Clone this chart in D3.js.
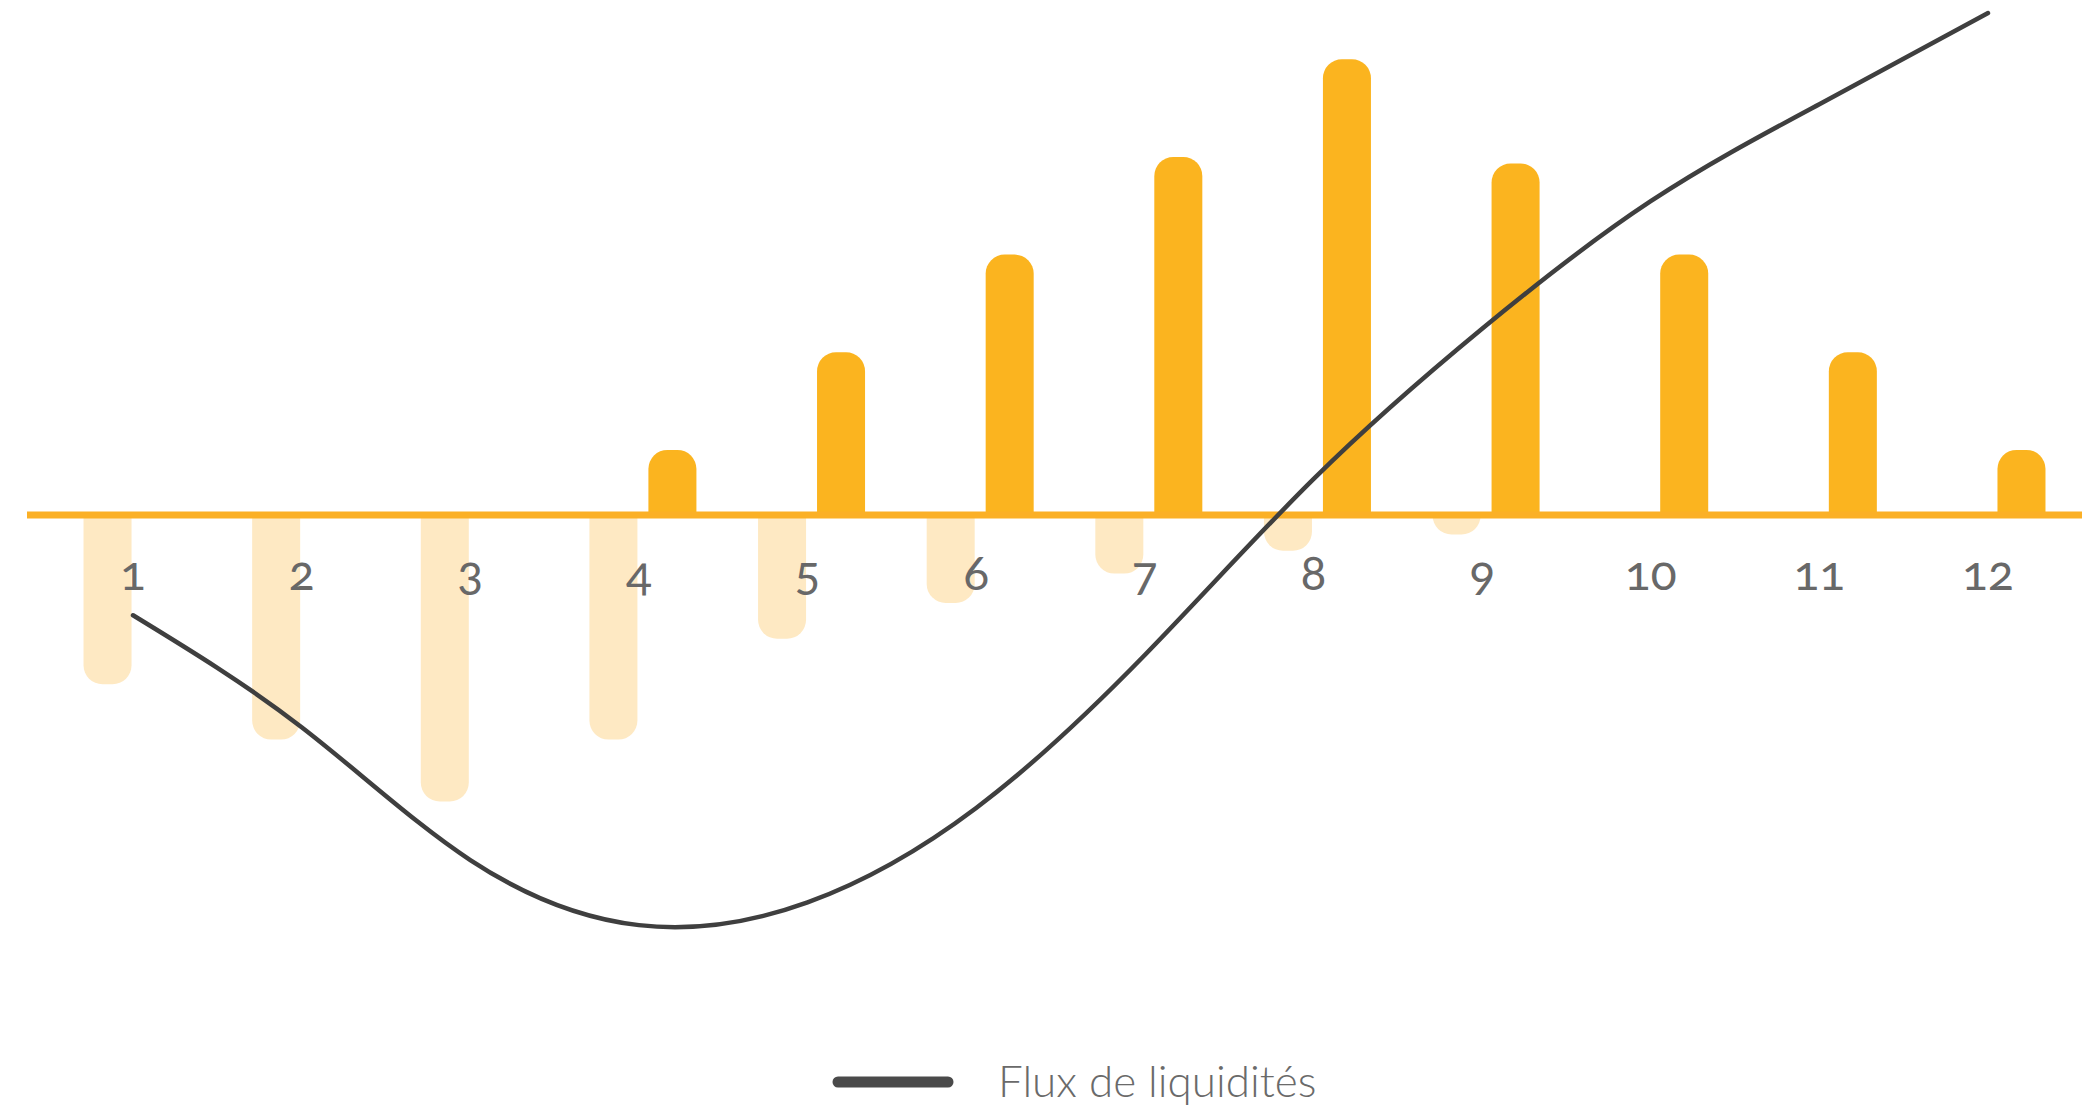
<!DOCTYPE html>
<html>
<head>
<meta charset="utf-8">
<script src="https://cdn.jsdelivr.net/npm/d3@7"></script>
<style>
  html, body { margin: 0; padding: 0; background: #ffffff; }
  svg { display: block; }
</style>
</head>
<body>
<svg id="chart" width="2082" height="1105"></svg>
<script>
// ---- Data ----
const months = ["1","2","3","4","5","6","7","8","9","10","11","12"];
const inflows  = [0, 0, 0, 10, 25, 40, 55, 70, 54, 40, 25, 10];
const outflows = [26, 34.5, 44, 34.5, 19, 13.5, 9, 5.5, 3, 0, 0, 0];
const cashFlow = [-15.4, -32.6, -53, -63, -59.5, -45, -21.5, 5.5, 28.6, 48.2, 63.1, 77.1];
const legendLabel = "Flux de liquidités";

// ---- Layout ----
const W = 2082, H = 1105;
const svg = d3.select("#chart");

const x = d3.scaleBand().domain(months).range([48.7, 2072.3]).padding(0);
const xInner = d3.scaleBand().domain(["out", "in"]).range([-49.5, 57.5]).paddingInner(0.186);
const y = d3.scaleLinear().domain([-60, 80]).range([515 + 60 * 6.51, 515 - 80 * 6.51]);
const cx = m => x(m) + x.bandwidth() / 2;

const darkColor = "#FBB41F";
const lightColor = "#FEE9C3";
const axisColor = "#FBB026";
const r = 19;

const defs = svg.append("defs");
defs.append("clipPath").attr("id", "above")
  .append("rect").attr("x", 0).attr("y", 0).attr("width", W).attr("height", y(0));
defs.append("clipPath").attr("id", "below")
  .append("rect").attr("x", 0).attr("y", y(0)).attr("width", W).attr("height", H - y(0));

const data = months.map((m, i) => ({ m, inflow: inflows[i], outflow: outflows[i], cash: cashFlow[i] }));

// light (outflow) bars below axis
svg.append("g").attr("clip-path", "url(#below)")
  .selectAll("rect")
  .data(data.filter(d => d.outflow > 0))
  .join("rect")
  .attr("fill", lightColor)
  .attr("x", d => cx(d.m) + xInner("out"))
  .attr("width", xInner.bandwidth())
  .attr("y", y(0) - r)
  .attr("height", d => y(-d.outflow) - y(0) + r)
  .attr("rx", r).attr("ry", r);

// dark (inflow) bars above axis
svg.append("g").attr("clip-path", "url(#above)")
  .selectAll("rect")
  .data(data.filter(d => d.inflow > 0))
  .join("rect")
  .attr("fill", darkColor)
  .attr("x", d => cx(d.m) + xInner("in"))
  .attr("width", xInner.bandwidth())
  .attr("y", d => y(d.inflow))
  .attr("height", d => y(0) - y(d.inflow) + r)
  .attr("rx", r).attr("ry", r);

// axis line
svg.append("line")
  .attr("x1", 27).attr("x2", W)
  .attr("y1", y(0)).attr("y2", y(0))
  .attr("stroke", axisColor).attr("stroke-width", 7);

// month labels
const xAxis = d3.axisBottom(x).tickSize(0).tickPadding(0);
const axisG = svg.append("g").attr("transform", `translate(0,${y(0) + 75})`).call(xAxis);
axisG.select(".domain").remove();
axisG.selectAll("text")
  .attr("dy", 0)
  .attr("fill", "#686868")
  .style("font-family", "Lato, 'Open Sans', sans-serif")
  .style("font-weight", 400)
  .style("font-size", "48px")
  .style("font-feature-settings", "'onum' 1");

// cash-flow line
const line = d3.line().x(d => cx(d.m)).y(d => y(d.cash)).curve(d3.curveNatural);
svg.append("path")
  .datum(data)
  .attr("fill", "none")
  .attr("stroke", "#3f3f3f")
  .attr("stroke-width", 4.5)
  .attr("stroke-linecap", "round")
  .attr("d", line);

// legend
const lg = svg.append("g").attr("transform", "translate(0,1082)");
lg.append("line")
  .attr("x1", 838).attr("x2", 948).attr("y1", 0).attr("y2", 0)
  .attr("stroke", "#4a4a4a").attr("stroke-width", 11).attr("stroke-linecap", "round");
lg.append("text")
  .attr("x", 998).attr("y", 15)
  .attr("fill", "#6a6a6a")
  .style("font-family", "Lato, 'Open Sans', sans-serif")
  .style("font-weight", 300)
  .style("font-size", "44px")
  .text(legendLabel);
</script>
</body>
</html>
